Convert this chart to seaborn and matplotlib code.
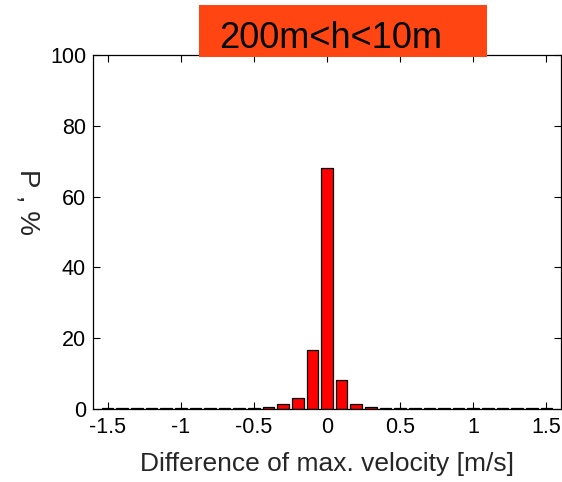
import numpy as np
import pandas as pd
import matplotlib
matplotlib.use("Agg")
import matplotlib.pyplot as plt
from matplotlib.patches import Rectangle
import seaborn as sns

# bin centres of the velocity difference [m/s] and probability [%]
centers = [-1.5, -1.4, -1.3, -1.2, -1.1, -1.0, -0.9, -0.8, -0.7, -0.6, -0.5,
           -0.4, -0.3, -0.2, -0.1, 0.0, 0.1, 0.2, 0.3,
           0.4, 0.5, 0.6, 0.7, 0.8, 0.9, 1.0, 1.1, 1.2, 1.3, 1.4, 1.5]
probs = [0.3, 0.3, 0.3, 0.3, 0.3, 0.3, 0.3, 0.3, 0.3, 0.3, 0.3,
         0.7, 1.4, 3.0, 16.6, 68.2, 8.2, 1.4, 0.6,
         0.3, 0.3, 0.3, 0.3, 0.3, 0.3, 0.3, 0.3, 0.3, 0.3, 0.3, 0.3]
xticks = [-1.5, -1.0, -0.5, 0.0, 0.5, 1.0, 1.5]
xticklabels = ["-1.5", "-1", "-0.5", "0", "0.5", "1", "1.5"]
yticks = [0, 20, 40, 60, 80, 100]
title = "200m<h<10m"

df = pd.DataFrame({"dv": centers, "p": probs})

sns.set_style("ticks")
plt.rcParams["font.family"] = ["Liberation Sans", "DejaVu Sans"]

fig = plt.figure(figsize=(5.62, 4.82), dpi=100)
ax = fig.add_axes([93 / 562, 73 / 482, 468 / 562, 354 / 482])

sns.barplot(data=df, x="dv", y="p", native_scale=True, width=0.8,
            color="#ff0000", saturation=1, edgecolor="black", linewidth=0.9,
            ax=ax)

ax.set_xlim(-1.6, 1.6)
ax.set_ylim(0, 100)
ax.set_xticks(xticks)
ax.set_xticklabels(xticklabels)
ax.set_yticks(yticks)
ax.tick_params(direction="in", length=5, width=0.8, labelsize=15.5,
               top=True, right=True, colors="black")
ax.tick_params(axis="x", pad=6)
ax.tick_params(axis="y", pad=5)
for s in ax.spines.values():
    s.set_visible(True)
    s.set_color("black")
    s.set_linewidth(0.9)

ax.set_xlabel("Difference of max. velocity [m/s]", fontsize=19, labelpad=10)
ax.set_ylabel("P , %", fontsize=20, rotation=270, va="center")
ax.yaxis.set_label_coords(-0.14, 0.585)

# orange title box above the plot
fig.patches.append(Rectangle((199 / 562, 1 - 57 / 482), 288 / 562, 52 / 482,
                             transform=fig.transFigure, facecolor="#ff4511",
                             edgecolor="none", zorder=5))
fig.text(219 / 562, 1 - 48 / 482, title, fontsize=26, ha="left",
         va="baseline", color="black", zorder=6)

fig.savefig("out.png", dpi=100)
